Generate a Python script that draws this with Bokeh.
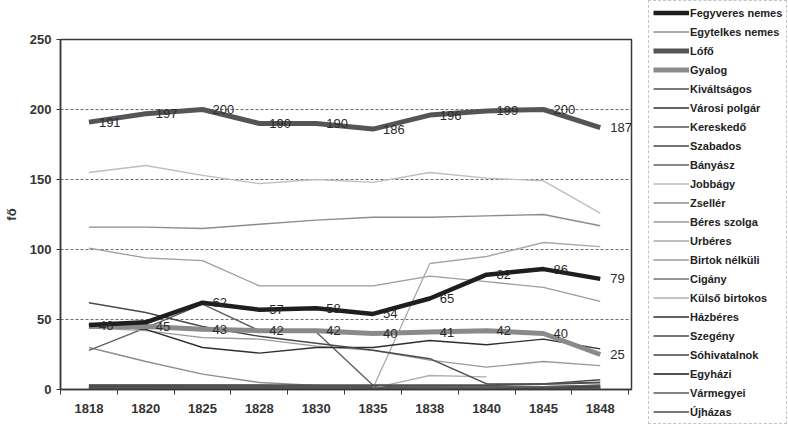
import math
from bokeh.plotting import figure
from bokeh.models import Range1d, FixedTicker, Legend, LegendItem, ColumnDataSource
from bokeh.embed import file_html
from bokeh.resources import INLINE
from bokeh.core.properties import value

NaN = float("nan")

years = ["1818", "1820", "1825", "1828", "1830", "1835", "1838", "1840", "1845", "1848"]

fegyveres_nemes = [46, 48, 62, 57, 58, 54, 65, 82, 86, 79]
egytelkes_nemes = [30, 20, 11, 5, 3, 1, 1, 1, 1, 1]
lofo = [191, 197, 200, 190, 190, 186, 196, 199, 200, 187]
gyalog = [45, 45, 43, 42, 42, 40, 41, 42, 40, 25]
kivaltsagos = [2, 2, 2, 2, 2, 2, 2, 2, 2, 3]
varosi_polgar = [1, 1, 1, 1, 1, 1, 1, 1, 2, 2]
kereskedo = [3, 3, 3, 3, 2, 2, 1, 1, 1, 1]
szabados = [2, 2, 1, 1, 1, 1, 1, 0, 0, 0]
banyasz = [28, 44, 61, 42, 41, 3, 2, 2, 2, 3]
jobbagy = [155, 160, 153, 147, 150, 148, 155, 151, 149, 126]
zseller = [116, 116, 115, 118, 121, 123, 123, 124, 125, 117]
beres_szolga = [101, 94, 92, 74, 74, 74, 81, 77, 73, 63]
urberes = [NaN, NaN, NaN, NaN, NaN, 1, 90, 95, 105, 102]
birtok_nelkuli = [44, 42, 37, 36, 31, 28, 21, 16, 20, 17]
cigany = [1, 1, 1, 1, 1, 1, 1, 1, 1, 1]
kulso_birtokos = [NaN, NaN, NaN, NaN, NaN, 1, 10, 9, NaN, NaN]
hazberes = [46, 43, 30, 26, 30, 30, 35, 32, 36, 29]
szegeny = [62, 55, 45, 38, 33, 28, 22, 4, 4, 7]
sohivatalnok = [1, 1, 1, 1, 1, 1, 0, 0, 0, 0]
egyhazi = [3, 3, 3, 3, 3, 3, 3, 3, 4, 5]
varmegyei = [1, 1, 1, 1, 1, 1, 1, 1, 1, 1]
ujhazas = [0, 0, 0, 0, 0, 0, 0, 0, 1, 2]

series_names = ["Fegyveres nemes", "Egytelkes nemes", "Lófő", "Gyalog", "Kiváltságos",
                "Városi polgár", "Kereskedő", "Szabados", "Bányász", "Jobbágy", "Zsellér",
                "Béres szolga", "Urbéres", "Birtok nélküli", "Cigány", "Külső birtokos",
                "Házbéres", "Szegény", "Sóhivatalnok", "Egyházi", "Vármegyei", "Újházas"]
series_values = [fegyveres_nemes, egytelkes_nemes, lofo, gyalog, kivaltsagos, varosi_polgar,
                 kereskedo, szabados, banyasz, jobbagy, zseller, beres_szolga, urberes,
                 birtok_nelkuli, cigany, kulso_birtokos, hazberes, szegeny, sohivatalnok,
                 egyhazi, varmegyei, ujhazas]

# styles: (color, width)
styles = {
    "Fegyveres nemes": ("#1e1e1e", 4.5),
    "Egytelkes nemes": ("#8e8e8e", 1.3),
    "Lófő": ("#555555", 5),
    "Gyalog": ("#8a8a8a", 5),
    "Kiváltságos": ("#505050", 1.4),
    "Városi polgár": ("#303030", 1.4),
    "Kereskedő": ("#555555", 1.4),
    "Szabados": ("#444444", 1.4),
    "Bányász": ("#606060", 1.4),
    "Jobbágy": ("#bdbdbd", 1.3),
    "Zsellér": ("#8c8c8c", 1.4),
    "Béres szolga": ("#9c9c9c", 1.3),
    "Urbéres": ("#a8a8a8", 1.3),
    "Birtok nélküli": ("#9a9a9a", 1.3),
    "Cigány": ("#707070", 1.4),
    "Külső birtokos": ("#b0b0b0", 1.3),
    "Házbéres": ("#2e2e2e", 1.4),
    "Szegény": ("#4a4a4a", 1.4),
    "Sóhivatalnok": ("#444444", 1.4),
    "Egyházi": ("#505050", 2.0),
    "Vármegyei": ("#5a5a5a", 1.4),
    "Újházas": ("#4a4a4a", 1.4),
}

FONT = "Liberation Sans"
xs = list(range(len(years)))

p = figure(frame_width=571, frame_height=350, output_backend="svg", toolbar_location=None,
           x_range=Range1d(-0.5, len(years) - 0.45), y_range=Range1d(0, 250),
           min_border_left=54, min_border_right=147, min_border_top=39, min_border_bottom=37)
p.background_fill_color = "white"
p.border_fill_color = "white"
p.outline_line_color = "#3a3a3a"
p.outline_line_width = 1.5

p.xgrid.grid_line_color = None
p.ygrid.grid_line_color = "#6a6a6a"
p.ygrid.grid_line_dash = "3 2"
p.ygrid.grid_line_width = 1
p.ygrid.ticker = FixedTicker(ticks=[0, 50, 100, 150, 200, 250])

p.xaxis.ticker = FixedTicker(ticks=xs, minor_ticks=[i - 0.5 for i in range(len(years) + 1)])
p.xaxis.major_label_overrides = {i: y for i, y in enumerate(years)}
p.xaxis.major_tick_out = 0
p.xaxis.major_tick_in = 0
p.xaxis.minor_tick_out = 5
p.xaxis.minor_tick_in = 0
p.xaxis.minor_tick_line_color = "#3a3a3a"
p.xaxis.axis_line_color = "#3a3a3a"
p.xaxis.axis_line_width = 1.5
p.xaxis.major_label_standoff = 9
p.xaxis.major_label_text_font = FONT
p.xaxis.major_label_text_font_size = "13px"
p.xaxis.major_label_text_font_style = "bold"
p.xaxis.major_label_text_color = "#333333"

p.yaxis.ticker = FixedTicker(ticks=[0, 50, 100, 150, 200, 250])
p.yaxis.minor_tick_line_color = None
p.yaxis.major_tick_out = 4
p.yaxis.major_tick_in = 0
p.yaxis.major_tick_line_color = "#3a3a3a"
p.yaxis.axis_line_color = "#3a3a3a"
p.yaxis.axis_line_width = 1.5
p.yaxis.major_label_standoff = 5
p.yaxis.major_label_text_font = FONT
p.yaxis.major_label_text_font_size = "13px"
p.yaxis.major_label_text_font_style = "bold"
p.yaxis.major_label_text_color = "#333333"
p.yaxis.axis_label = "fő"
p.yaxis.axis_label_text_font = FONT
p.yaxis.axis_label_text_font_size = "13px"
p.yaxis.axis_label_text_font_style = "bold"
p.yaxis.axis_label_text_color = "#333333"
p.yaxis.axis_label_standoff = 8

thick = {"Fegyveres nemes", "Lófő", "Gyalog"}
renderers = {}
order = [n for n in series_names if n not in thick] + ["Gyalog", "Fegyveres nemes", "Lófő"]
for name in order:
    vals = series_values[series_names.index(name)]
    color, width = styles[name]
    src = ColumnDataSource(dict(x=xs, y=vals))
    renderers[name] = p.line("x", "y", source=src, line_color=color, line_width=width,
                             line_join="round")

def add_labels(vals, idx):
    src = ColumnDataSource(dict(x=[xs[i] for i in idx], y=[vals[i] for i in idx],
                                t=[str(vals[i]) for i in idx]))
    p.text("x", "y", text="t", source=src, x_offset=10, text_align="left",
           text_baseline="middle", text_font=value(FONT), text_font_size="13px",
           text_color="#2a2a2a")

add_labels(lofo, list(range(10)))
add_labels(fegyveres_nemes, [0, 2, 3, 4, 5, 6, 7, 8, 9])
add_labels(gyalog, [1, 2, 3, 4, 5, 6, 7, 8, 9])

items = [LegendItem(label=n, renderers=[renderers[n]]) for n in series_names]
legend = Legend(items=items, location=(17, -35), orientation="vertical", ncols=1)
legend.label_text_font = FONT
legend.label_text_font_size = "11px"
legend.label_text_font_style = "bold"
legend.label_text_color = "#222222"
legend.glyph_width = 36
legend.glyph_height = 15
legend.label_height = 15
legend.label_standoff = 1
legend.spacing = 4
legend.padding = 4
legend.margin = 0
legend.border_line_color = "#8a8a8a"
legend.border_line_dash = "2 2"
legend.border_line_width = 1
legend.background_fill_color = "white"
legend.background_fill_alpha = 1
p.add_layout(legend, "right")

open("out.html", "w").write(file_html(p, INLINE))
